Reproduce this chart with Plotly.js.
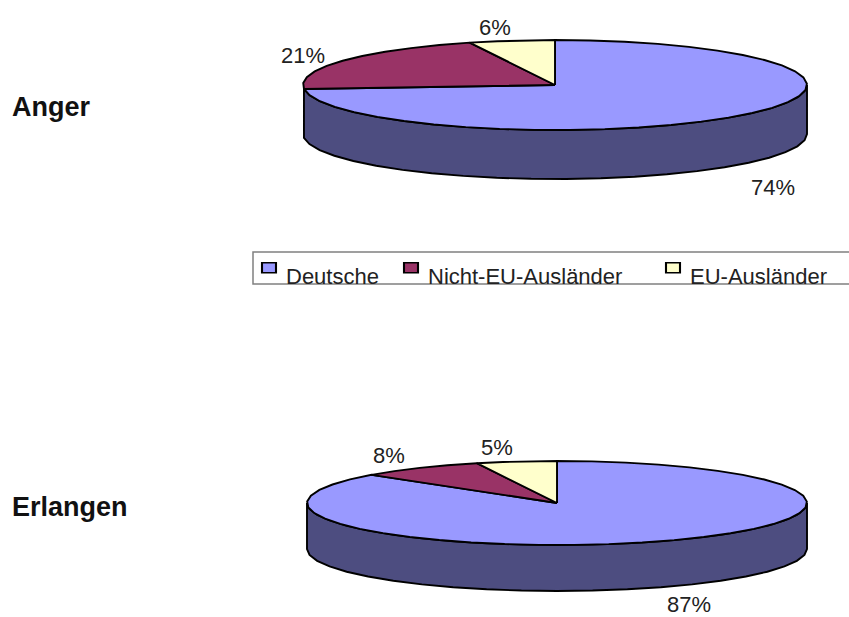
<!DOCTYPE html>
<html><head><meta charset="utf-8">
<script src="https://cdn.plot.ly/plotly-3.0.1.min.js"></script>
<style>html,body{margin:0;padding:0;background:#fff}</style></head>
<body><div id="chart" style="width:849px;height:617px"></div>
<script>
const categories = ["Deutsche", "Nicht-EU-Ausländer", "EU-Ausländer"];
const angerValues = [73.6, 20.9, 5.5];
const erlangenValues = [86.7, 8.1, 5.2];
const colors = ["#9999FF", "#993366", "#FFFFCC"];
const sideColor = "#4D4D80";
const outline = { color: "#000", width: 1.9 };

function arc(g, a0, a1) {
  const xs = [], ys = [];
  const n = Math.max(2, Math.ceil(Math.abs(a1 - a0) / (2 * Math.PI) * 44));
  for (let i = 0; i <= n; i++) {
    const a = a0 + (a1 - a0) * i / n;
    xs.push(g.cx + g.rx * Math.sin(a));
    ys.push(g.cy - g.ry * Math.cos(a));
  }
  return [xs, ys];
}

function pieTraces(values, g) {
  const traces = [];
  const total = values.reduce((s, v) => s + v, 0);
  let start = 0;
  const slices = values.map((v, i) => {
    const sweep = v / total * 2 * Math.PI;
    const s = { i, a0: start, a1: start + sweep };
    start += sweep;
    return s;
  });
  const first = slices[0];
  const lo = Math.max(first.a0, Math.PI / 2), hi = Math.min(first.a1, 3 * Math.PI / 2);
  const [sx, sy] = arc(g, lo, hi);
  const wx = sx.concat(sx.slice().reverse());
  const wy = sy.concat(sy.slice().reverse().map(y => y + g.depth));
  wx.push(wx[0]); wy.push(wy[0]);
  traces.push({ x: wx, y: wy, mode: "lines", fill: "toself", fillcolor: sideColor,
    line: outline, showlegend: false, hoverinfo: "skip" });
  slices.forEach(s => {
    const [ax, ay] = arc(g, s.a0, s.a1);
    traces.push({ x: [g.cx].concat(ax, [g.cx]), y: [g.cy].concat(ay, [g.cy]),
      mode: "lines", fill: "toself", fillcolor: colors[s.i],
      line: outline, showlegend: false,
      name: categories[s.i], hoverinfo: "name" });
  });
  return traces;
}

const anger = { cx: 555, cy: 85, rx: 252, ry: 45, depth: 49 };
const erlangen = { cx: 557, cy: 503, rx: 250, ry: 42, depth: 46 };

const legendIds = ["legend", "legend2", "legend3"];
const legendTraces = categories.map((c, i) => ({
  x: [null], y: [null], mode: "markers", name: c, legend: legendIds[i],
  marker: { symbol: "square", size: 10, color: colors[i], line: { color: "#000", width: 1.5 } }
}));

const pct = v => Math.round(v) + "%";
const fontColor = "#222";
const fam = "Liberation Sans, Arial, sans-serif";
const labelFont = { family: fam, size: 22, color: fontColor };
const headFont = { family: fam, size: 27, color: "#111" };
function note(x, y, text, font, xanchor) {
  return { x, y, text, font, xanchor: xanchor || "center", yanchor: "middle",
    xref: "x", yref: "y", showarrow: false, borderpad: 0 };
}
const annotations = [
  note(773, 187, pct(angerValues[0]), labelFont),
  note(303, 55, pct(angerValues[1]), labelFont),
  note(495, 27, pct(angerValues[2]), labelFont),
  note(689, 604, pct(erlangenValues[0]), labelFont),
  note(389, 455, pct(erlangenValues[1]), labelFont),
  note(497, 447, pct(erlangenValues[2]), labelFont),
  note(11, 107, "<b>Anger</b>", headFont, "left"),
  note(11, 507, "<b>Erlangen</b>", headFont, "left")
];

function legendAt(px) {
  return {
    orientation: "v", x: px / 849, xanchor: "left", y: 1 - 255 / 617, yanchor: "top",
    borderwidth: 0, bgcolor: "rgba(0,0,0,0)",
    font: { family: fam, size: 22, color: fontColor },
    itemclick: false, itemdoubleclick: false
  };
}

const data = pieTraces(angerValues, anger).concat(pieTraces(erlangenValues, erlangen), legendTraces);
const layout = {
  width: 849, height: 617,
  margin: { l: 0, r: 0, t: 0, b: 0 },
  paper_bgcolor: "#fff", plot_bgcolor: "#fff",
  xaxis: { range: [0, 849], visible: false, fixedrange: true },
  yaxis: { range: [617, 0], visible: false, fixedrange: true },
  showlegend: true,
  annotations,
  shapes: [{ type: "rect", xref: "x", yref: "y", x0: 253, x1: 860, y0: 252, y1: 284,
    line: { color: "#808080", width: 1.5 }, fillcolor: "rgba(0,0,0,0)" }],
  legend: legendAt(246), legend2: legendAt(388), legend3: legendAt(650)
};
Plotly.newPlot("chart", data, layout, { displayModeBar: false, staticPlot: true }).then(() => {
  // Excel-style swatches: wider than tall and raised above the text centre.
  document.querySelectorAll("#chart .legendpoints").forEach(g => {
    g.setAttribute("transform", "translate(3,-8)");
    g.querySelectorAll("path").forEach(p => {
      p.setAttribute("transform", (p.getAttribute("transform") || "") + " scale(1.4,1)");
    });
  });
});
</script></body></html>
